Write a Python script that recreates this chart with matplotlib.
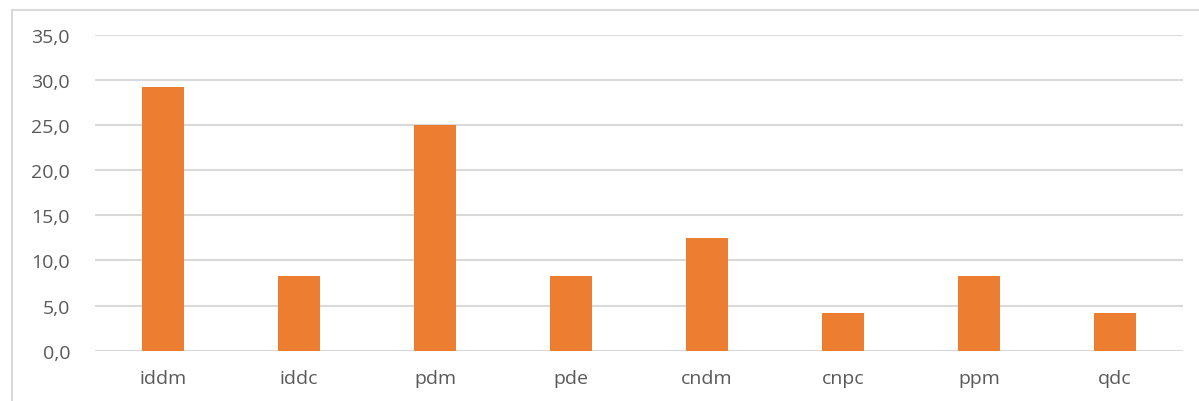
import matplotlib
matplotlib.use("Agg")
import matplotlib.pyplot as plt
from matplotlib.lines import Line2D
from matplotlib.ticker import FuncFormatter, MultipleLocator

categories = ["iddm", "iddc", "pdm", "pde", "cndm", "cnpc", "ppm", "qdc"]
values = [29.2, 8.3, 25.0, 8.3, 12.5, 4.2, 8.3, 4.2]

bar_color = "#ED7D31"
grid_color = "#D9D9D9"
text_color = "#595959"

plt.rcParams["font.family"] = ["Open Sans", "DejaVu Sans"]

fig = plt.figure(figsize=(11.99, 4.02), dpi=100)
ax = fig.add_axes([95 / 1199, 50.3 / 402, (1183 - 95) / 1199, (351.7 - 35.7) / 402])

x = range(len(categories))
ax.bar(x, values, width=0.31, color=bar_color, zorder=3)

ax.set_xlim(-0.5, len(categories) - 0.5)
ax.set_ylim(0, 35)
ax.yaxis.set_major_locator(MultipleLocator(5))
ax.yaxis.set_major_formatter(FuncFormatter(lambda v, p: f"{v:.1f}".replace(".", ",")))
ax.set_xticks(list(x))
ax.set_xticklabels(categories)

ax.grid(axis="y", color=grid_color, linewidth=1.5, zorder=0)
for s in ax.spines.values():
    s.set_visible(False)
ax.tick_params(axis="both", length=0, colors=text_color, labelsize=14)
ax.tick_params(axis="y", pad=18)
ax.tick_params(axis="x", pad=13)

# outer chart frame (left and top edges)
fx, fy = 11.5 / 1199, 1 - 10.5 / 402
fig.add_artist(Line2D([fx, fx], [0, fy], transform=fig.transFigure,
                      color=grid_color, linewidth=1.5))
fig.add_artist(Line2D([fx, 1], [fy, fy], transform=fig.transFigure,
                      color=grid_color, linewidth=1.5))

fig.savefig("out.png", dpi=100, facecolor="white")
